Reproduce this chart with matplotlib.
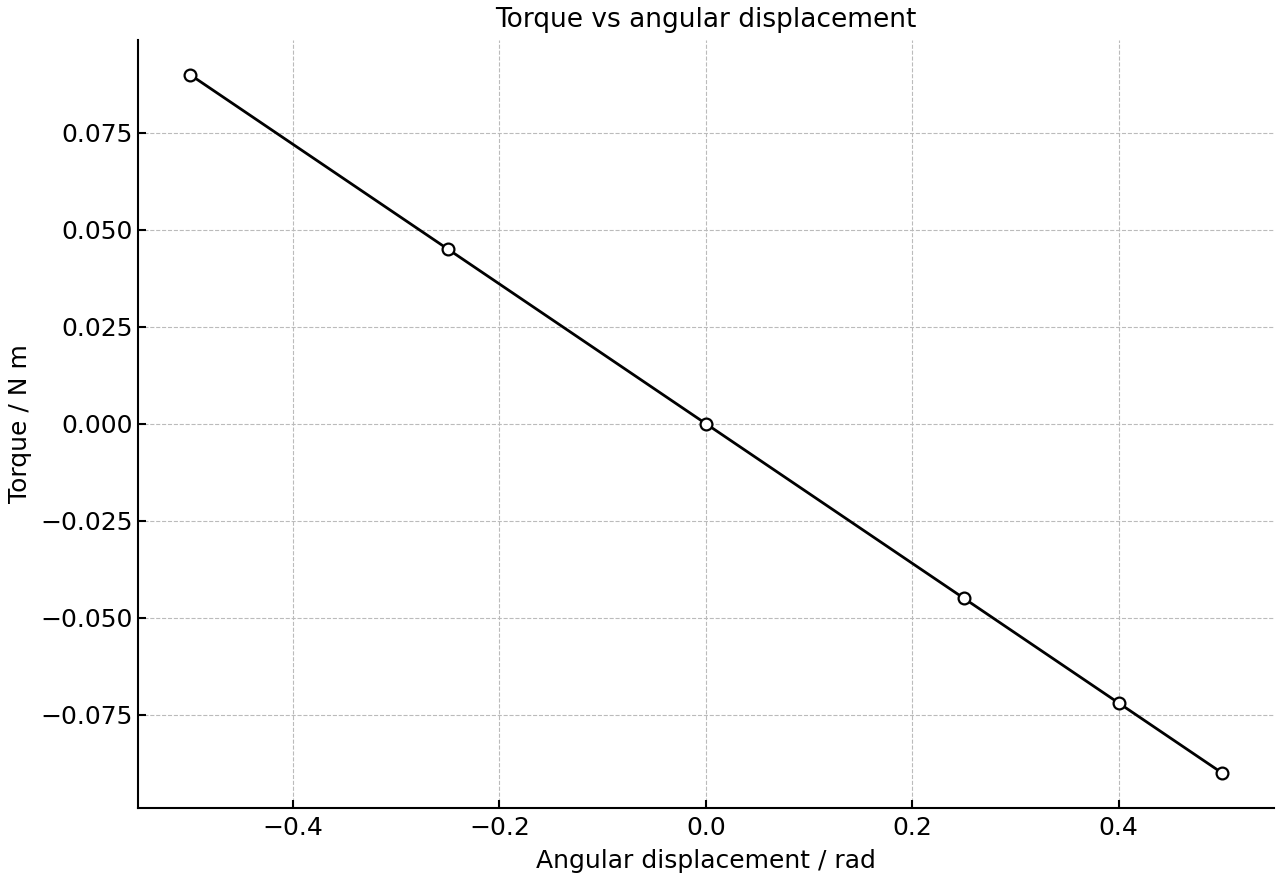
import matplotlib
matplotlib.use("Agg")
import matplotlib.pyplot as plt

angle_rad = [-0.5, -0.25, 0.0, 0.25, 0.4, 0.5]
torque_nm = [0.09, 0.045, 0.0, -0.045, -0.072, -0.09]

plt.rcParams['font.size'] = 18

fig, ax = plt.subplots(figsize=(12.8, 8.8), dpi=100)
fig.subplots_adjust(left=0.108, right=0.995, top=0.955, bottom=0.082)

ax.plot(angle_rad, torque_nm, color='black', linewidth=2, marker='o',
        markersize=8.5, markerfacecolor='white', markeredgecolor='black',
        markeredgewidth=1.6)

ax.set_title("Torque vs angular displacement", fontsize=19, pad=9)
ax.set_xlabel("Angular displacement / rad", labelpad=6)
ax.set_ylabel("Torque / N m", labelpad=6)

ax.grid(True, linestyle='--', color='#bbbbbb', linewidth=0.8)
ax.tick_params(axis='x', direction='in', length=6, width=1.5, pad=6)
ax.tick_params(axis='y', direction='in', length=6, width=1.5, pad=4)
for side in ['top', 'right']:
    ax.spines[side].set_visible(False)
for side in ['left', 'bottom']:
    ax.spines[side].set_linewidth(1.5)

fig.savefig("out.png", dpi=100)
